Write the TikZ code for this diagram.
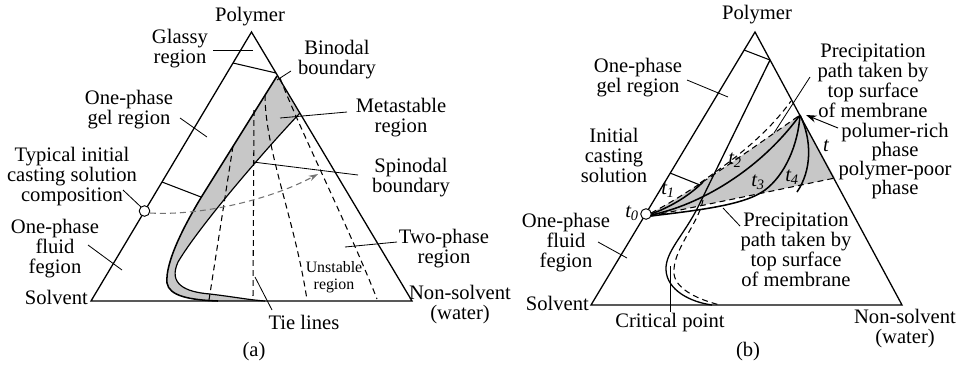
\documentclass[tikz,border=0pt]{standalone}
\usepackage{fontspec}
\setmainfont{Liberation Serif}
\usetikzlibrary{arrows.meta}
\begin{document}
\begin{tikzpicture}[x=0.85pt,y=-0.85pt,
  lbl/.style={font=\fontsize{17.5}{17}\selectfont, align=center, inner sep=0pt},
  tight/.style={font=\fontsize{17.5}{16}\selectfont, align=center, inner sep=0pt},
  small/.style={font=\fontsize{13.5}{14}\selectfont, align=center, inner sep=0pt},
  tlab/.style={font=\fontsize{17.5}{17}\selectfont\itshape, inner sep=0pt},
  side/.style={line width=1.1pt, line join=miter},
  ptr/.style={line width=0.7pt},
  tie/.style={dash pattern=on 5pt off 3.5pt, line width=0.9pt},
  curve/.style={line width=1.3pt},
  shade/.style={fill=black!22}]
\useasboundingbox (0,0) rectangle (965,364);

% ================= (a) =================
\coordinate (Pa) at (251.5,32);
\coordinate (Sa) at (91,301);
\coordinate (Na) at (412,301);

% gray metastable band
\fill[shade] (277,76) -- (202,196) .. controls (185,224) and (165,262) .. (167,283)
  .. controls (169,296) and (190,300) .. (218,301) -- (265,301)
  .. controls (250,300) and (235,297) .. (210,294)
  .. controls (185,292) and (168,284) .. (178,262)
  .. controls (200,225) and (265,150) .. (300,113) -- cycle;

% tie lines
\draw[tie] (233,146) -- (209,300);
\draw[tie] (254,110) -- (253,300);
\draw[tie] (265,95) .. controls (265,150) and (295,220) .. (307,300);
\draw[tie] (280,78) .. controls (300,130) and (350,230) .. (377,299);

% binodal and spinodal
\draw[curve] (277,76) -- (202,196) .. controls (185,224) and (165,262) .. (167,283)
  .. controls (169,296) and (190,300) .. (218,301);
\draw[line width=1pt] (300,113) .. controls (265,150) and (200,225) .. (178,262)
  .. controls (168,284) and (185,292) .. (210,294)
  .. controls (235,297) and (250,300) .. (265,301);

% triangle
\draw[side] (Pa) -- (Sa) -- (Na) -- cycle;
\draw[ptr, line width=0.9pt] (233,63) -- (276,73);
\draw[ptr, line width=0.9pt] (162,182) -- (201,197);

% casting path
\draw[black!55, dash pattern=on 5pt off 3.5pt, line width=0.9pt, -{Stealth[length=8pt,width=5pt,fill=black!55]}]
  (150,213) .. controls (200,216) and (270,200) .. (318,174);
\node[circle, draw, fill=white, line width=0.8pt, minimum size=9pt, inner sep=0pt] (ca) at (144.5,211) {};

% pointers
\draw[ptr] (213,50) -- (253,50);
\draw[ptr] (277,80) -- (291,71);
\draw[ptr] (280,118) -- (347,112);
\draw[ptr] (180,118) -- (207,137);
\draw[ptr] (123,190) -- (141,207);
\draw[ptr] (88,245) -- (122,270);
\draw[ptr] (253,162) -- (358,175);
\draw[ptr] (345,247) -- (397,242);
\draw[ptr] (255,277) -- (272,310);

% labels
\node[lbl] (polyA) at (250,17) {Polymer};
\node[lbl] (glassy) at (180,49) {Glassy\\region};
\node[lbl] (binodal) at (337,60) {Binodal\\boundary};
\node[lbl] (meta) at (401,118) {Metastable\\region};
\node[lbl] (gelA) at (129,110) {One-phase\\gel region};
\node[lbl] (typ) at (72,177) {Typical initial\\casting solution\\composition};
\node[lbl] (spin) at (411,178) {Spinodal\\boundary};
\node[lbl] (fluidA) at (55,249) {One-phase\\fluid\\fegion};
\node[lbl] (two) at (444,249) {Two-phase\\region};
\node[small] (unst) at (334,277) {Unstable\\region};
\node[lbl, anchor=east] (solvA) at (88,297) {Solvent};
\node[lbl] (nonA) at (460,305) {Non-solvent\\(water)};
\node[lbl] (tie) at (304,322) {Tie lines};
\node[lbl] (capA) at (254,352) {(a)};

% ================= (b) =================
\coordinate (Pb) at (755,32);
\coordinate (Sb) at (591,305);
\coordinate (Nb) at (902,305);

% gray region
\fill[shade] (651,213) .. controls (685,196) and (750,150) .. (800,115)
  -- (835,178) -- (651,216) -- cycle;

% dashed precipitation paths
\draw[tie] (651,213) .. controls (685,196) and (750,150) .. (800,115);
\draw[tie] (700,183) .. controls (730,162) and (765,137) .. (791,101);
\draw[tie] (651,216) -- (835,178);

% binodal (solid) and dashed curve
\draw[line width=1.1pt] (770,60) -- (698,207) .. controls (684,235) and (665,252) .. (666,270)
  .. controls (667,290) and (690,302) .. (712,305);
\draw[tie] (703,200) .. controls (698,225) and (672,250) .. (674,274)
  .. controls (676,290) and (700,300) .. (720,305);

% composition curves
\draw[curve] (651,214) .. controls (668,208) and (688,197) .. (703,182);
\draw[curve] (651,215) .. controls (700,205) and (760,170) .. (800,115);
\draw[curve] (651,216) .. controls (700,210) and (745,205) .. (765,190)
  .. controls (785,175) and (798,145) .. (800,115);
\draw[curve] (800,115) .. controls (812,140) and (812,170) .. (797,192);

% triangle
\draw[side] (Pb) -- (Sb) -- (Nb) -- cycle;
\draw[ptr, line width=0.9pt] (744,50) -- (770,60);
\draw[ptr, line width=0.9pt] (670,173) -- (700,185);
\node[circle, draw, fill=white, line width=0.8pt, minimum size=9pt, inner sep=0pt] (cb) at (646,214) {};

% pointers
\draw[ptr] (687,80) -- (728,97);
\draw[ptr] (810,77) -- (774,133);
\draw[ptr] (723,208) -- (740,226);
\draw[ptr] (598,242) -- (627,258);
\draw[ptr] (670,266) -- (670,312);
\draw[line width=0.8pt, -{Stealth[length=9pt,width=6pt]}] (838,128) -- (806,115);

% labels
\node[lbl] (polyB) at (757,15) {Polymer};
\node[lbl] (gelB) at (638,78) {One-phase\\gel region};
\node[lbl] (init) at (614,155) {Initial\\casting\\solution};
\node[tlab] (t0) at (632,213) {t\textsubscript{0}};
\node[tlab] (t1) at (668,190) {t\textsubscript{1}};
\node[tlab] (t2) at (735,160) {t\textsubscript{2}};
\node[tlab] (t3) at (758,182) {t\textsubscript{3}};
\node[tlab] (t4) at (792,177) {t\textsubscript{4}};
\node[tlab] (tt) at (826,146) {t};
\node[lbl] (precU) at (873,81) {Precipitation\\path taken by\\top surface\\of membrane};
\node[tight] (phases) at (895,161) {polumer-rich\\phase\\polymer-poor\\phase};
\node[lbl] (precL) at (796,250) {Precipitation\\path taken by\\top surface\\of membrane};
\node[lbl] (fluidB) at (566,243) {One-phase\\fluid\\fegion};
\node[lbl, anchor=east] (solvB) at (589,303) {Solvent};
\node[lbl] (crit) at (670,323) {Critical point};
\node[lbl] (nonB) at (905,329) {Non-solvent\\(water)};
\node[lbl] (capB) at (748,352) {(b)};
\end{tikzpicture}
\end{document}
